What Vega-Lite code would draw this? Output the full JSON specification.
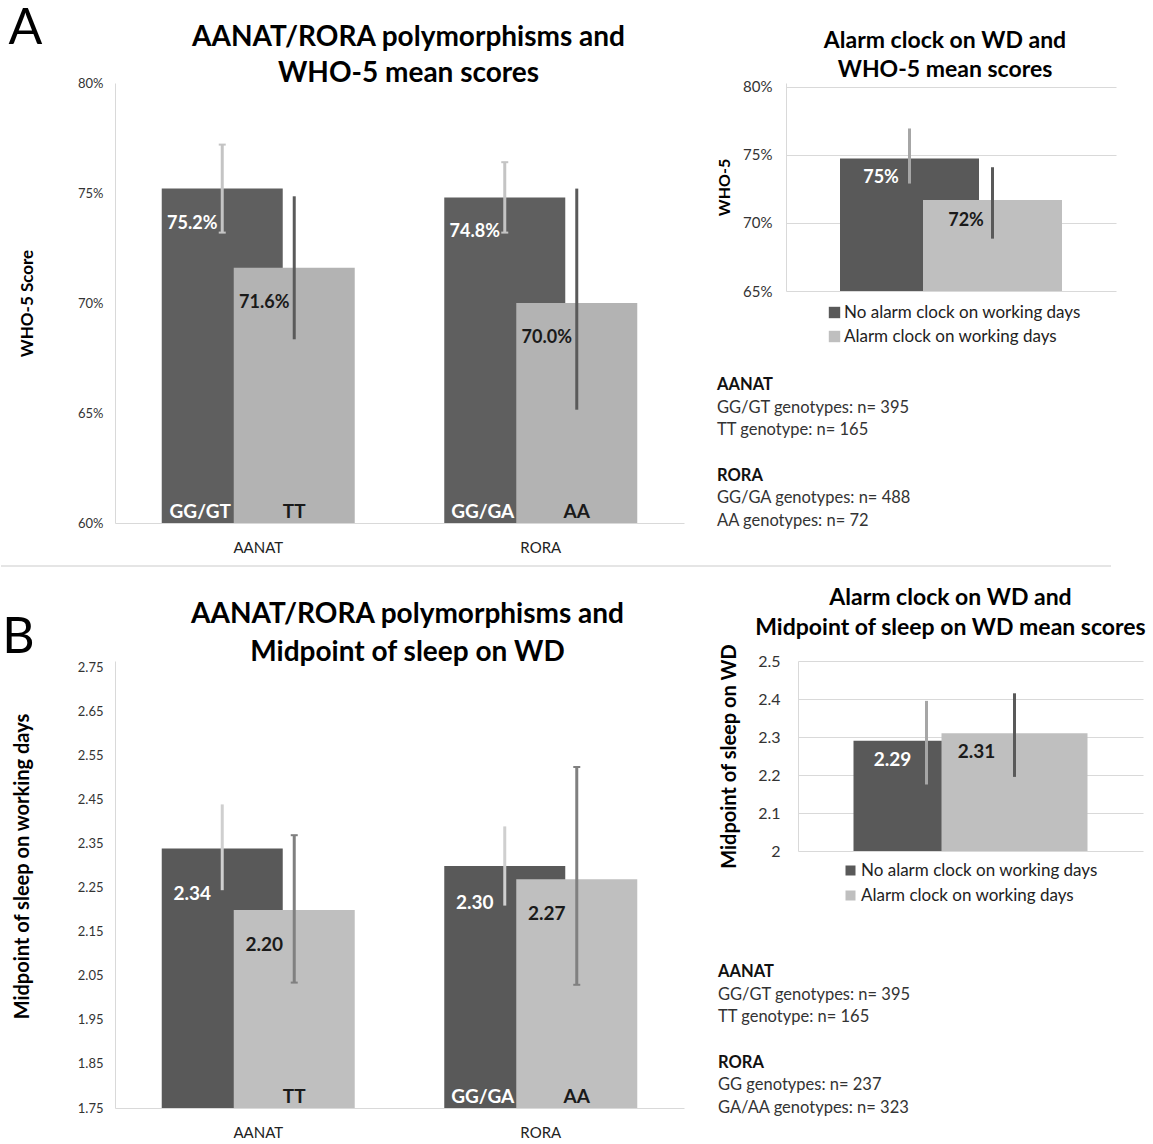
{
  "$schema": "https://vega.github.io/schema/vega-lite/v6.json",
  "background": "white",
  "padding": {"left": 0, "top": 4, "right": 0, "bottom": 0},
  "config": {"font": "Lato", "view": {"stroke": null}},
  "datasets": {
    "leftA": [
      {"gene": "AANAT", "grp": "dark", "value": 75.2, "lo": 73.2, "hi": 77.2, "label": "75.2%", "geno": "GG/GT"},
      {"gene": "AANAT", "grp": "light", "value": 71.6, "lo": 68.35, "hi": 74.85, "label": "71.6%", "geno": "TT"},
      {"gene": "RORA", "grp": "dark", "value": 74.8, "lo": 73.2, "hi": 76.4, "label": "74.8%", "geno": "GG/GA"},
      {"gene": "RORA", "grp": "light", "value": 70.0, "lo": 65.15, "hi": 75.2, "label": "70.0%", "geno": "AA"}
    ],
    "leftB": [
      {"gene": "AANAT", "grp": "dark", "value": 2.34, "lo": 2.245, "hi": 2.44, "label": "2.34", "geno": ""},
      {"gene": "AANAT", "grp": "light", "value": 2.20, "lo": 2.035, "hi": 2.37, "label": "2.20", "geno": "TT"},
      {"gene": "RORA", "grp": "dark", "value": 2.30, "lo": 2.21, "hi": 2.39, "label": "2.30", "geno": "GG/GA"},
      {"gene": "RORA", "grp": "light", "value": 2.27, "lo": 2.03, "hi": 2.525, "label": "2.27", "geno": "AA"}
    ],
    "rightA": [
      {"cat": "all", "grp": "No alarm clock on working days", "value": 74.75, "lo": 72.9, "hi": 76.95, "label": "75%"},
      {"cat": "all", "grp": "Alarm clock on working days", "value": 71.7, "lo": 68.85, "hi": 74.1, "label": "72%"}
    ],
    "rightB": [
      {"cat": "all", "grp": "No alarm clock on working days", "value": 2.29, "lo": 2.175, "hi": 2.395, "label": "2.29"},
      {"cat": "all", "grp": "Alarm clock on working days", "value": 2.31, "lo": 2.195, "hi": 2.415, "label": "2.31"}
    ],
    "txtA": [
      {"i": 0, "t": "AANAT", "b": true},
      {"i": 1, "t": "GG/GT genotypes: n= 395", "b": false},
      {"i": 2, "t": "TT genotype: n= 165", "b": false},
      {"i": 3, "t": "", "b": false},
      {"i": 4, "t": "RORA", "b": true},
      {"i": 5, "t": "GG/GA genotypes: n= 488", "b": false},
      {"i": 6, "t": "AA genotypes: n= 72", "b": false}
    ],
    "txtB": [
      {"i": 0, "t": "AANAT", "b": true},
      {"i": 1, "t": "GG/GT genotypes: n= 395", "b": false},
      {"i": 2, "t": "TT genotype: n= 165", "b": false},
      {"i": 3, "t": "", "b": false},
      {"i": 4, "t": "RORA", "b": true},
      {"i": 5, "t": "GG genotypes: n= 237", "b": false},
      {"i": 6, "t": "GA/AA genotypes: n= 323", "b": false}
    ]
  },
  "spacing": 10,
  "resolve": {"scale": {"color": "independent"}, "legend": {"color": "independent"}},
  "vconcat": [
    {
      "title": {"text": "A", "fontSize": 50, "fontWeight": "normal", "anchor": "start", "offset": -30, "dx": -10, "color": "#000"},
      "spacing": 32,
      "resolve": {"scale": {"color": "independent"}, "legend": {"color": "independent"}},
      "hconcat": [
        {
          "width": 569, "height": 440,
          "data": {"name": "leftA"},
          "title": {"text": ["AANAT/RORA polymorphisms and", "WHO-5 mean scores"], "fontSize": 28, "lineHeight": 36, "fontWeight": "bold", "anchor": "middle", "frame": "group", "offset": -11, "dx": 9, "color": "#000"},
          "encoding": {
            "x": {"field": "gene", "type": "nominal", "sort": ["AANAT", "RORA"], "scale": {"paddingInner": 0.5, "paddingOuter": 0.257},
              "axis": {"title": null, "labelAngle": 0, "labelFontSize": 15, "labelPadding": 17, "ticks": false, "domainColor": "#d9d9d9", "labelColor": "#222"}}
          },
          "layer": [
            {"transform": [{"filter": "datum.grp == 'dark'"}],
             "mark": {"type": "bar", "width": 121, "xOffset": -36, "color": "#5f5f5f"},
             "encoding": {
               "y": {"field": "value", "type": "quantitative", "scale": {"domain": [60, 80], "zero": false, "nice": false},
                 "axis": {"title": "WHO-5 Score", "titleFontSize": 17, "titleFontWeight": "bold", "titleColor": "#000", "titlePadding": 41, "values": [60, 65, 70, 75, 80], "tickCount": 10, "labelExpr": "datum.value + '%'", "labelFontSize": 13, "labelColor": "#333", "labelPadding": 12, "ticks": false, "grid": false, "domainColor": "#d9d9d9"}},
               "y2": {"datum": 60}}},
            {"transform": [{"filter": "datum.grp == 'light'"}],
             "mark": {"type": "bar", "width": 121, "xOffset": 36, "color": "#b3b3b3"},
             "encoding": {"y": {"field": "value", "type": "quantitative"}, "y2": {"datum": 60}}},
            {"transform": [{"filter": "datum.grp == 'dark'"}],
             "mark": {"type": "rule", "strokeWidth": 3, "xOffset": -36, "color": "#c4c4c4"},
             "encoding": {"y": {"field": "lo", "type": "quantitative"}, "y2": {"field": "hi"}}},
            {"transform": [{"filter": "datum.grp == 'dark'"}],
             "mark": {"type": "tick", "orient": "horizontal", "size": 7, "thickness": 2, "xOffset": -36, "color": "#c4c4c4", "opacity": 1},
             "encoding": {"y": {"field": "lo", "type": "quantitative"}}},
            {"transform": [{"filter": "datum.grp == 'dark'"}],
             "mark": {"type": "tick", "orient": "horizontal", "size": 7, "thickness": 2, "xOffset": -36, "color": "#c4c4c4", "opacity": 1},
             "encoding": {"y": {"field": "hi", "type": "quantitative"}}},
            {"transform": [{"filter": "datum.grp == 'light'"}],
             "mark": {"type": "rule", "strokeWidth": 3, "xOffset": 36, "color": "#5a5a5a"},
             "encoding": {"y": {"field": "lo", "type": "quantitative"}, "y2": {"field": "hi"}}},
            {"transform": [{"filter": "datum.grp == 'dark'"}],
             "mark": {"type": "text", "fontSize": 18, "fontWeight": "bold", "baseline": "middle", "dx": -66, "dy": 35, "color": "#ffffff"},
             "encoding": {"y": {"field": "value", "type": "quantitative"}, "text": {"field": "label"}}},
            {"transform": [{"filter": "datum.grp == 'light'"}],
             "mark": {"type": "text", "fontSize": 18, "fontWeight": "bold", "baseline": "middle", "dx": 6, "dy": 35, "color": "#1a1a1a"},
             "encoding": {"y": {"field": "value", "type": "quantitative"}, "text": {"field": "label"}}},
            {"transform": [{"filter": "datum.grp == 'dark'"}],
             "mark": {"type": "text", "fontSize": 19, "fontWeight": "bold", "baseline": "alphabetic", "dx": -58, "dy": -5, "color": "#ffffff"},
             "encoding": {"y": {"datum": 60, "type": "quantitative"}, "text": {"field": "geno"}}},
            {"transform": [{"filter": "datum.grp == 'light'"}],
             "mark": {"type": "text", "fontSize": 19, "fontWeight": "bold", "baseline": "alphabetic", "dx": 36, "dy": -5, "color": "#1a1a1a"},
             "encoding": {"y": {"datum": 60, "type": "quantitative"}, "text": {"field": "geno"}}}
          ]
        },
        {
          "spacing": 29,
          "resolve": {"scale": {"color": "independent"}, "legend": {"color": "independent"}},
          "vconcat": [
            {
              "width": 330, "height": 208,
              "data": {"name": "rightA"},
              "title": {"text": ["Alarm clock on WD and", "WHO-5 mean scores"], "fontSize": 23, "lineHeight": 29, "fontWeight": "bold", "anchor": "middle", "frame": "group", "offset": -2, "dx": -6, "color": "#000"},
              "encoding": {
                "x": {"field": "cat", "type": "nominal", "scale": {"paddingInner": 0, "paddingOuter": 0.494}, "axis": null}
              },
              "layer": [
                {"transform": [{"filter": "datum.grp == 'No alarm clock on working days'"}],
                 "mark": {"type": "bar", "width": 139, "xOffset": -41.5},
                 "encoding": {
                   "y": {"field": "value", "type": "quantitative", "scale": {"domain": [65, 80.294], "zero": false, "nice": false},
                     "axis": {"title": "WHO-5", "titleFontSize": 16, "titleFontWeight": "bold", "titleColor": "#000", "titlePadding": 10, "values": [65, 70, 75, 80], "tickCount": 10, "labelExpr": "datum.value + '%'", "labelFontSize": 15, "labelColor": "#333", "labelPadding": 14, "ticks": false, "grid": true, "gridColor": "#d9d9d9", "domainColor": "#d9d9d9"}},
                   "y2": {"datum": 65},
                   "color": {"field": "grp", "type": "nominal", "scale": {"domain": ["No alarm clock on working days", "Alarm clock on working days"], "range": ["#595959", "#bfbfbf"]},
                     "legend": {"orient": "none", "legendX": 40, "legendY": 221, "title": null, "symbolType": "square", "symbolSize": 130, "symbolStrokeWidth": 0, "labelFontSize": 17, "labelColor": "#222", "labelOffset": 1, "labelLimit": 400, "rowPadding": 6}}}},
                {"transform": [{"filter": "datum.grp == 'Alarm clock on working days'"}],
                 "mark": {"type": "bar", "width": 139, "xOffset": 41.5},
                 "encoding": {"y": {"field": "value", "type": "quantitative"}, "y2": {"datum": 65}, "color": {"field": "grp", "type": "nominal"}}},
                {"transform": [{"filter": "datum.grp == 'No alarm clock on working days'"}],
                 "mark": {"type": "rule", "strokeWidth": 3, "xOffset": -41.5, "color": "#a6a6a6"},
                 "encoding": {"y": {"field": "lo", "type": "quantitative"}, "y2": {"field": "hi"}}},
                {"transform": [{"filter": "datum.grp == 'Alarm clock on working days'"}],
                 "mark": {"type": "rule", "strokeWidth": 3, "xOffset": 41.5, "color": "#595959"},
                 "encoding": {"y": {"field": "lo", "type": "quantitative"}, "y2": {"field": "hi"}}},
                {"transform": [{"filter": "datum.grp == 'No alarm clock on working days'"}],
                 "mark": {"type": "text", "fontSize": 18, "fontWeight": "bold", "baseline": "middle", "dx": -70, "dy": 20, "color": "#ffffff"},
                 "encoding": {"y": {"field": "value", "type": "quantitative"}, "text": {"field": "label"}}},
                {"transform": [{"filter": "datum.grp == 'Alarm clock on working days'"}],
                 "mark": {"type": "text", "fontSize": 18, "fontWeight": "bold", "baseline": "middle", "dx": 15, "dy": 21, "color": "#1a1a1a"},
                 "encoding": {"y": {"field": "value", "type": "quantitative"}, "text": {"field": "label"}}}
              ]
            },
            {
              "width": 300, "height": 158,
              "data": {"name": "txtA"},
              "encoding": {
                "y": {"field": "i", "type": "ordinal", "axis": null, "scale": {"paddingInner": 0, "paddingOuter": 0}},
                "x": {"datum": 0, "type": "quantitative", "scale": {"domain": [0, 1]}, "axis": null},
                "text": {"field": "t"}
              },
              "layer": [
                {"transform": [{"filter": "datum.b"}], "mark": {"type": "text", "align": "left", "baseline": "middle", "fontSize": 16.5, "fontWeight": "bold", "dx": -69, "color": "#111"}},
                {"transform": [{"filter": "!datum.b"}], "mark": {"type": "text", "align": "left", "baseline": "middle", "fontSize": 16.5, "dx": -69, "color": "#333"}}
              ]
            }
          ]
        }
      ]
    },
    {
      "width": 1110, "height": 11,
      "data": {"values": [{"v": 0}]},
      "mark": {"type": "rule", "color": "#dcdcdc", "strokeWidth": 1.5},
      "encoding": {
        "y": {"datum": 1, "type": "quantitative", "scale": {"domain": [0, 1]}, "axis": null},
        "x": {"datum": 0, "type": "quantitative", "scale": {"domain": [114, 1224]}, "axis": null},
        "x2": {"datum": 1110}
      }
    },
    {
      "title": {"text": "B", "fontSize": 50, "fontWeight": "normal", "anchor": "start", "offset": -76, "dx": -10, "color": "#000"},
      "spacing": 34,
      "resolve": {"scale": {"color": "independent"}, "legend": {"color": "independent"}},
      "hconcat": [
        {
          "width": 569, "height": 447,
          "data": {"name": "leftB"},
          "title": {"text": ["AANAT/RORA polymorphisms and", "Midpoint of sleep on WD"], "fontSize": 28, "lineHeight": 38, "fontWeight": "bold", "anchor": "middle", "frame": "group", "offset": -6, "dx": 8, "color": "#000"},
          "encoding": {
            "x": {"field": "gene", "type": "nominal", "sort": ["AANAT", "RORA"], "scale": {"paddingInner": 0.5, "paddingOuter": 0.257},
              "axis": {"title": null, "labelAngle": 0, "labelFontSize": 15, "labelPadding": 17, "ticks": false, "domainColor": "#d9d9d9", "labelColor": "#222"}}
          },
          "layer": [
            {"transform": [{"filter": "datum.grp == 'dark'"}],
             "mark": {"type": "bar", "width": 121, "xOffset": -36, "color": "#595959"},
             "encoding": {
               "y": {"field": "value", "type": "quantitative", "scale": {"domain": [1.75, 2.7659], "zero": false, "nice": false},
                 "axis": {"title": "Midpoint of sleep on working days", "titleFontSize": 20, "titleFontWeight": "bold", "titleColor": "#000", "titlePadding": 45, "titleY": 205, "values": [1.75, 1.85, 1.95, 2.05, 2.15, 2.25, 2.35, 2.45, 2.55, 2.65, 2.75], "tickCount": 20, "format": ".2f", "labelFontSize": 13, "labelColor": "#333", "labelPadding": 12, "labelOverlap": false, "ticks": false, "grid": false, "domainColor": "#d9d9d9"}},
               "y2": {"datum": 1.75}}},
            {"transform": [{"filter": "datum.grp == 'light'"}],
             "mark": {"type": "bar", "width": 121, "xOffset": 36, "color": "#bfbfbf"},
             "encoding": {"y": {"field": "value", "type": "quantitative"}, "y2": {"datum": 1.75}}},
            {"transform": [{"filter": "datum.grp == 'dark'"}],
             "mark": {"type": "rule", "strokeWidth": 3, "xOffset": -36, "color": "#cfcfcf"},
             "encoding": {"y": {"field": "lo", "type": "quantitative"}, "y2": {"field": "hi"}}},
            {"transform": [{"filter": "datum.grp == 'light'"}],
             "mark": {"type": "rule", "strokeWidth": 3, "xOffset": 36, "color": "#808080"},
             "encoding": {"y": {"field": "lo", "type": "quantitative"}, "y2": {"field": "hi"}}},
            {"transform": [{"filter": "datum.grp == 'light'"}],
             "mark": {"type": "tick", "orient": "horizontal", "size": 7, "thickness": 2, "xOffset": 36, "color": "#808080", "opacity": 1},
             "encoding": {"y": {"field": "lo", "type": "quantitative"}}},
            {"transform": [{"filter": "datum.grp == 'light'"}],
             "mark": {"type": "tick", "orient": "horizontal", "size": 7, "thickness": 2, "xOffset": 36, "color": "#808080", "opacity": 1},
             "encoding": {"y": {"field": "hi", "type": "quantitative"}}},
            {"transform": [{"filter": "datum.grp == 'dark' && datum.gene == 'AANAT'"}],
             "mark": {"type": "text", "fontSize": 19, "fontWeight": "bold", "baseline": "middle", "dx": -66, "dy": 46, "color": "#ffffff"},
             "encoding": {"y": {"field": "value", "type": "quantitative"}, "text": {"field": "label"}}},
            {"transform": [{"filter": "datum.grp == 'dark' && datum.gene == 'RORA'"}],
             "mark": {"type": "text", "fontSize": 19, "fontWeight": "bold", "baseline": "middle", "dx": -66, "dy": 37, "color": "#ffffff"},
             "encoding": {"y": {"field": "value", "type": "quantitative"}, "text": {"field": "label"}}},
            {"transform": [{"filter": "datum.grp == 'light'"}],
             "mark": {"type": "text", "fontSize": 19, "fontWeight": "bold", "baseline": "middle", "dx": 6, "dy": 35, "color": "#1a1a1a"},
             "encoding": {"y": {"field": "value", "type": "quantitative"}, "text": {"field": "label"}}},
            {"transform": [{"filter": "datum.grp == 'dark'"}],
             "mark": {"type": "text", "fontSize": 19, "fontWeight": "bold", "baseline": "alphabetic", "dx": -58, "dy": -5, "color": "#ffffff"},
             "encoding": {"y": {"datum": 1.75, "type": "quantitative"}, "text": {"field": "geno"}}},
            {"transform": [{"filter": "datum.grp == 'light'"}],
             "mark": {"type": "text", "fontSize": 19, "fontWeight": "bold", "baseline": "alphabetic", "dx": 36, "dy": -5, "color": "#1a1a1a"},
             "encoding": {"y": {"datum": 1.75, "type": "quantitative"}, "text": {"field": "geno"}}}
          ]
        },
        {
          "spacing": 57,
          "resolve": {"scale": {"color": "independent"}, "legend": {"color": "independent"}},
          "vconcat": [
            {
              "width": 345, "height": 190,
              "data": {"name": "rightB"},
              "title": {"text": ["Alarm clock on WD and", "Midpoint of sleep on WD mean scores"], "fontSize": 23, "lineHeight": 30, "fontWeight": "bold", "anchor": "middle", "frame": "group", "offset": 3, "dx": -20, "color": "#000"},
              "encoding": {
                "x": {"field": "cat", "type": "nominal", "scale": {"paddingInner": 0, "paddingOuter": 0.48}, "axis": null}
              },
              "layer": [
                {"transform": [{"filter": "datum.grp == 'No alarm clock on working days'"}],
                 "mark": {"type": "bar", "width": 146, "xOffset": -44},
                 "encoding": {
                   "y": {"field": "value", "type": "quantitative", "scale": {"domain": [2, 2.5], "zero": false, "nice": false},
                     "axis": {"title": "Midpoint of sleep on WD", "titleFontSize": 20, "titleFontWeight": "bold", "titleColor": "#000", "titlePadding": 18, "values": [2, 2.1, 2.2, 2.3, 2.4, 2.5], "tickCount": 10, "format": "~g", "labelFontSize": 16, "labelColor": "#333", "labelPadding": 18, "labelOverlap": false, "ticks": false, "grid": true, "gridColor": "#d9d9d9", "domainColor": "#d9d9d9"}},
                   "y2": {"datum": 2},
                   "color": {"field": "grp", "type": "nominal", "scale": {"domain": ["No alarm clock on working days", "Alarm clock on working days"], "range": ["#595959", "#bfbfbf"]},
                     "legend": {"orient": "none", "legendX": 44, "legendY": 201, "title": null, "symbolType": "square", "symbolSize": 100, "symbolStrokeWidth": 0, "labelFontSize": 17, "labelColor": "#222", "labelOffset": 2, "labelLimit": 400, "rowPadding": 7}}}},
                {"transform": [{"filter": "datum.grp == 'Alarm clock on working days'"}],
                 "mark": {"type": "bar", "width": 146, "xOffset": 44},
                 "encoding": {"y": {"field": "value", "type": "quantitative"}, "y2": {"datum": 2}, "color": {"field": "grp", "type": "nominal"}}},
                {"transform": [{"filter": "datum.grp == 'No alarm clock on working days'"}],
                 "mark": {"type": "rule", "strokeWidth": 3, "xOffset": -44, "color": "#a6a6a6"},
                 "encoding": {"y": {"field": "lo", "type": "quantitative"}, "y2": {"field": "hi"}}},
                {"transform": [{"filter": "datum.grp == 'Alarm clock on working days'"}],
                 "mark": {"type": "rule", "strokeWidth": 3, "xOffset": 44, "color": "#595959"},
                 "encoding": {"y": {"field": "lo", "type": "quantitative"}, "y2": {"field": "hi"}}},
                {"transform": [{"filter": "datum.grp == 'No alarm clock on working days'"}],
                 "mark": {"type": "text", "fontSize": 19, "fontWeight": "bold", "baseline": "middle", "dx": -78, "dy": 19, "color": "#ffffff"},
                 "encoding": {"y": {"field": "value", "type": "quantitative"}, "text": {"field": "label"}}},
                {"transform": [{"filter": "datum.grp == 'Alarm clock on working days'"}],
                 "mark": {"type": "text", "fontSize": 19, "fontWeight": "bold", "baseline": "middle", "dx": 6, "dy": 19, "color": "#1a1a1a"},
                 "encoding": {"y": {"field": "value", "type": "quantitative"}, "text": {"field": "label"}}}
              ]
            },
            {
              "width": 300, "height": 158,
              "data": {"name": "txtB"},
              "encoding": {
                "y": {"field": "i", "type": "ordinal", "axis": null, "scale": {"paddingInner": 0, "paddingOuter": 0}},
                "x": {"datum": 0, "type": "quantitative", "scale": {"domain": [0, 1]}, "axis": null},
                "text": {"field": "t"}
              },
              "layer": [
                {"transform": [{"filter": "datum.b"}], "mark": {"type": "text", "align": "left", "baseline": "middle", "fontSize": 16.5, "fontWeight": "bold", "dx": -80, "color": "#111"}},
                {"transform": [{"filter": "!datum.b"}], "mark": {"type": "text", "align": "left", "baseline": "middle", "fontSize": 16.5, "dx": -80, "color": "#333"}}
              ]
            }
          ]
        }
      ]
    }
  ]
}
